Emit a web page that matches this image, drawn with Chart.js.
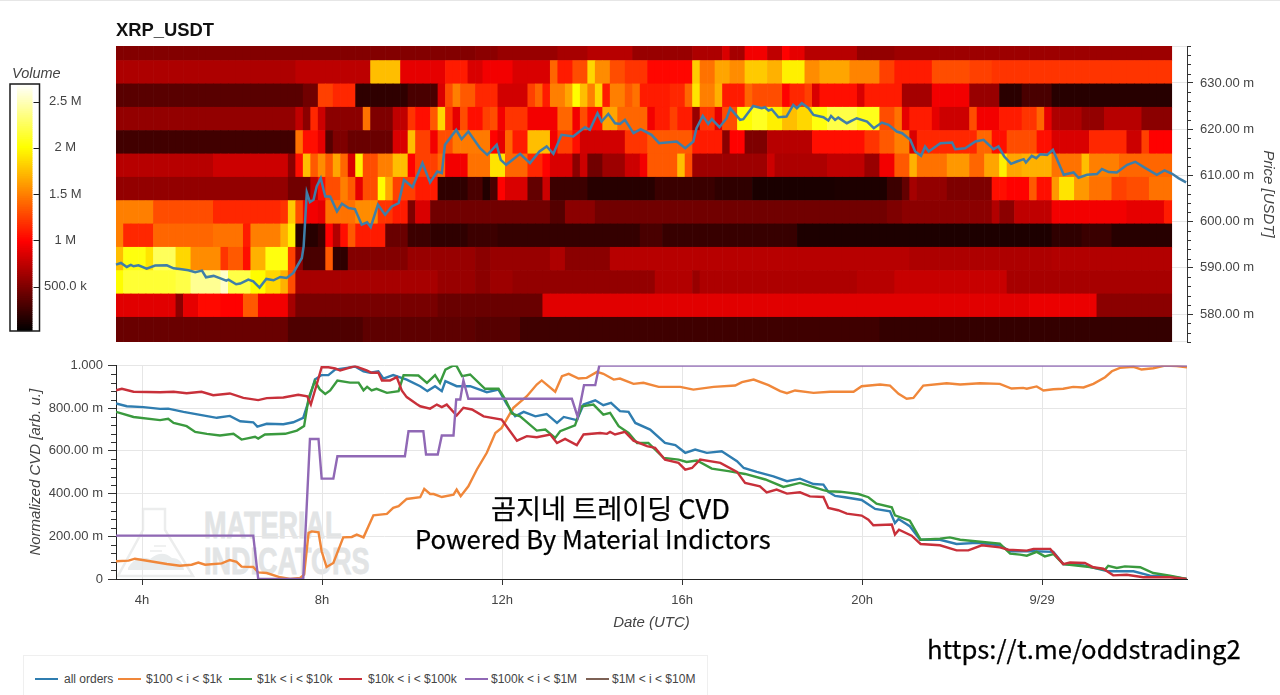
<!DOCTYPE html>
<html><head><meta charset="utf-8">
<script src="https://cdn.jsdelivr.net/npm/chart.js@4"></script>
<style>
html,body{margin:0;padding:0;background:#fff;width:1280px;height:695px;overflow:hidden;font-family:"Liberation Sans",Arial,sans-serif}
canvas{position:absolute;display:block}
.t{position:absolute;white-space:nowrap}
#topline{position:absolute;left:0;top:0;width:1280px;height:1px;background:#e6e6e6}
#title{left:116px;top:19px;font:bold 18.4px "Liberation Sans";color:#111}
#vol{left:12px;top:65px;font:italic 14.5px "Liberation Sans";color:#444}
.wm{font:bold 37px "Liberation Sans";color:#e2e4e5;transform-origin:0 0;transform:scaleX(.73);-webkit-text-stroke:.8px #e2e4e5}
.ko{font-family:"Noto Sans CJK KR";color:#000;-webkit-text-stroke:.25px #000}
#legend{position:absolute;left:23px;top:655px;width:685px;height:45px;border:1px solid #efefef;box-sizing:border-box}
#legend i{position:absolute;top:22px;width:23px;height:2px}
#legend span{position:absolute;top:16px;font:12px "Liberation Sans";color:#444}
</style></head><body>
<div id="topline"></div>
<svg style="position:absolute;left:116px;top:506px" width="80" height="74" viewBox="0 0 80 74">
<path d="M27 3H49V24L77 70H2L27 24Z" fill="none" stroke="#eceded" stroke-width="2.5"/>
<path d="M12 62Q20 48 34 53Q46 43 56 52Q66 52 68 64H12Z" fill="#e9eced"/>
<path d="M38 40H50M34 45H46" stroke="#eceded" stroke-width="1.5"/>
</svg>
<div class="t wm" style="left:204px;top:505px">MATERIAL</div>
<div class="t wm" style="left:204px;top:541px">INDICATORS</div>
<canvas id="heat" style="left:0;top:0" width="1280" height="350"></canvas>
<canvas id="bar" style="left:0;top:60px" width="110" height="280"></canvas>
<canvas id="cvd" style="left:0;top:350px" width="1280" height="290"></canvas>
<div class="t" id="title">XRP_USDT</div>
<div class="t" id="vol">Volume</div>
<div class="t ko" style="left:491px;top:489px;font-size:27.2px;line-height:36px">곰지네 트레이딩 CVD</div>
<div class="t ko" style="left:415px;top:520px;font-size:25.7px;line-height:36px">Powered By Material Indictors</div>
<div class="t ko" style="left:927px;top:629px;font-size:25.7px;line-height:38px">https://t.me/oddstrading2</div>
<div id="legend"></div>
<script>
/* ---------- heatmap rows (top to bottom): [end column, volume in M] ---------- */
const row00=[[48,.52],[51,.55],[59,.6],[63,.66],[69,.72],[77,.6],[81,.68],[82,.85],[84,.65],[87,.95],[89,.75],[90,1.0],[92,.9],[99,.72],[104,.58],[141,.62]];
const row01=[[24,.68],[34,.74],[38,1.75],[44,.9],[47,1.1],[49,.85],[53,.95],[58,.85],[59,1.4],[61,1.1],[63,1.3],[64,1.85],[66,1.55],[68,1.3],[71,1.2],[77,1.02],[78,1.8],[80,1.45],[82,1.65],[84,1.55],[87,1.8],[89,1.7],[92,1.95],[94,1.55],[98,1.65],[102,1.52],[104,1.25],[109,1.1],[114,1.3],[117,1.25],[127,1.2],[141,1.2]];
const row02=[[25,.36],[27,.45],[29,1.25],[32,1.15],[39,.2],[43,.3],[44,.85],[45,1.3],[46,1.5],[48,1.35],[51,1.15],[55,.82],[56,1.25],[57,1.4],[58,1.1],[60,1.5],[61,1.65],[62,2.0],[63,1.75],[64,1.5],[65,1.85],[66,1.1],[68,1.5],[69,1.35],[70,1.45],[74,1.1],[76,1.15],[77,1.4],[78,1.9],[80,1.5],[81,1.7],[84,1.1],[85,1.4],[89,1.3],[90,1.0],[92,1.15],[93,1.25],[94,.85],[99,1.05],[100,.85],[105,1.1],[109,.65],[114,.95],[118,.6],[121,.18],[125,.3],[141,.17]];
const row03=[[24,.58],[25,.75],[26,.55],[27,1.15],[28,.8],[33,.55],[34,1.45],[37,.5],[39,.75],[40,1.2],[42,1.05],[43,1.35],[44,1.85],[45,1.2],[46,.9],[47,1.3],[49,1.05],[50,1.25],[51,1.3],[52,.95],[55,1.2],[59,.95],[61,1.4],[62,.95],[63,1.3],[65,1.05],[67,1.65],[71,1.4],[72,.95],[74,1.1],[75,1.25],[77,1.1],[78,.6],[80,1.2],[81,.9],[83,1.3],[85,2.0],[87,2.1],[89,1.95],[91,1.75],[93,1.85],[95,2.05],[99,2.2],[102,2.08],[104,1.3],[105,1.45],[106,.9],[109,1.1],[110,.9],[114,.8],[115,1.3],[118,.95],[121,1.1],[123,1.2],[124,1.4],[125,.9],[129,.68],[132,.58],[137,.72],[141,.55]];
const row04=[[24,.27],[25,1.45],[27,1.05],[28,.9],[29,.35],[31,.5],[37,.42],[39,.85],[40,1.75],[42,1.25],[43,.95],[44,1.3],[45,1.3],[50,1.48],[51,1.0],[52,.9],[53,1.4],[55,1.1],[58,1.75],[59,.95],[61,1.25],[62,1.05],[68,.82],[71,1.2],[77,1.35],[81,1.1],[82,.55],[84,1.0],[87,.5],[93,.72],[100,1.05],[102,1.2],[104,1.35],[106,1.5],[107,.85],[115,1.15],[117,1.4],[119,1.05],[123,1.3],[125,1.05],[130,.85],[135,1.15],[137,.8],[138,1.25],[141,1.0]];
const row05=[[13,.72],[23,.8],[24,.55],[25,1.05],[26,1.75],[27,1.35],[28,1.55],[29,1.35],[30,1.65],[31,1.4],[32,.85],[33,1.95],[35,1.3],[37,1.5],[39,1.75],[40,1.0],[43,1.25],[44,1.4],[47,.95],[50,1.45],[52,1.9],[55,1.4],[57,1.15],[58,1.0],[61,.85],[62,.55],[63,.8],[65,.45],[68,.62],[70,.8],[71,.95],[75,1.35],[76,1.75],[77,1.3],[87,.62],[88,.8],[95,.68],[100,.75],[102,.6],[104,.95],[106,1.35],[107,1.7],[111,1.45],[114,1.6],[116,1.4],[118,1.65],[119,1.95],[121,1.65],[125,1.7],[129,1.45],[130,1.75],[134,1.5],[141,1.4]];
const row06=[[23,.58],[26,.45],[27,.75],[28,1.05],[30,1.3],[31,1.5],[32,1.35],[33,.9],[35,1.3],[36,2.0],[37,1.65],[40,1.25],[43,1.1],[47,.2],[49,.3],[50,.15],[51,.3],[52,1.0],[55,.85],[57,.4],[58,.8],[63,.25],[72,.17],[80,.24],[85,.2],[96,.12],[103,.13],[105,.25],[106,.4],[107,.65],[111,.58],[117,.5],[119,1.05],[122,1.0],[123,1.35],[125,1.05],[126,1.6],[128,1.9],[130,1.6],[133,1.45],[135,1.25],[138,1.3],[141,1.45]];
const row07=[[5,1.5],[13,1.3],[22,1.15],[23,1.2],[24,1.8],[25,1.3],[27,.95],[28,.9],[32,1.45],[35,1.55],[37,1.2],[39,1.1],[40,.5],[42,.85],[58,.45],[60,.34],[64,.55],[103,.45],[105,.5],[117,.55],[118,.7],[120,.55],[125,.75],[135,.95],[140,.9],[141,1.1]];
const row08=[[1,1.5],[5,1.15],[13,1.4],[17,1.45],[18,1.1],[22,1.5],[23,1.7],[24,1.95],[27,.17],[28,.25],[29,1.0],[30,.7],[31,1.05],[32,1.35],[36,1.1],[39,.42],[42,.25],[47,.2],[51,.25],[70,.22],[73,.3],[91,.23],[125,.13],[129,.2],[133,.24],[141,.17]];
const row09=[[1,1.75],[4,2.05],[5,1.9],[8,2.25],[10,1.85],[14,1.55],[15,1.2],[17,1.35],[18,1.05],[20,1.7],[23,2.05],[24,1.25],[25,.55],[28,.3],[29,1.35],[31,.2],[39,.52],[48,.6],[50,.55],[58,.6],[60,.68],[66,.55],[106,.72],[125,.68],[141,.7]];
const row10=[[1,2.0],[8,2.15],[10,2.2],[14,2.4],[15,2.55],[18,2.2],[20,2.0],[22,1.85],[23,1.7],[24,1.3],[43,.66],[48,.6],[50,.55],[53,.62],[72,.58],[77,.7],[78,.6],[99,.68],[104,.72],[119,.78],[141,.66]];
const row11=[[8,.88],[9,.55],[11,.9],[14,1.03],[17,1.0],[19,1.35],[23,.95],[24,.65],[43,.48],[57,.42],[122,.88],[131,.92],[141,.55]];
const row12=[[23,.42],[33,.32],[48,.38],[54,.35],[102,.26],[141,.22]];
const heatRows=[row12,row11,row10,row09,row08,row07,row06,row05,row04,row03,row02,row01,row00];
const rowEdges=[573.95,579.3,584.35,589.4,594.45,599.5,604.55,609.6,614.65,619.7,624.75,629.8,634.85,638];
const heatStartHour=3.42, columnsPerHour=6.01;

/* ---------- price line: [hour, price in milli-USDT] ---------- */
const priceLine=[[3.42,590.69],[3.53,591.05],[3.66,590.19],[3.75,590.62],[3.81,590.33],[3.92,590.55],[4.1,589.83],[4.29,590.48],[4.55,590.55],[4.7,589.9],[4.84,589.76],[5.03,589.47],[5.18,589.04],[5.33,589.4],[5.42,587.96],[5.59,588.25],[5.77,587.6],[5.87,587.24],[5.92,587.45],[6.09,586.45],[6.18,586.59],[6.36,587.45],[6.47,587.09],[6.61,585.73],[6.76,587.6],[6.92,587.31],[7.07,588.03],[7.21,587.81],[7.36,588.89],[7.55,592.13],[7.59,594.65],[7.66,606.32],[7.73,604.23],[7.81,604.73],[7.88,607.61],[7.97,609.41],[8.07,605.45],[8.18,605.45],[8.33,602.2],[8.44,603.87],[8.59,602.93],[8.73,602.72],[8.88,599.33],[9,599.84],[9.08,598.83],[9.24,603.65],[9.4,601.49],[9.55,603.29],[9.7,604.01],[9.82,609.05],[10.01,607.47],[10.23,612.65],[10.4,608.48],[10.56,610.85],[10.66,610.49],[10.73,616.61],[10.98,619.85],[11.1,617.83],[11.25,619.49],[11.51,615.89],[11.67,614.45],[11.88,616.61],[11.97,613.37],[12.09,612.29],[12.4,614.67],[12.62,612.65],[12.83,615.17],[12.99,616.25],[13.14,614.67],[13.32,618.77],[13.58,618.41],[13.84,620.43],[13.95,619.85],[14.12,623.45],[14.21,621.65],[14.36,623.31],[14.51,621.29],[14.62,621.15],[14.73,622.01],[14.92,619.13],[15.08,620],[15.32,618.77],[15.49,616.97],[15.88,617.33],[16.07,615.89],[16.25,617.33],[16.32,620.21],[16.46,622.87],[16.58,621.15],[16.66,622.16],[16.83,620.43],[16.99,622.37],[17.07,624.53],[17.29,622.01],[17.36,622.16],[17.58,625.03],[17.77,624.53],[17.84,624.75],[17.92,624.03],[17.99,624.31],[18.14,622.59],[18.32,622.73],[18.47,625.25],[18.55,624.53],[18.66,625.61],[18.81,624.53],[18.92,623.09],[19.14,622.59],[19.25,621.87],[19.31,622.87],[19.4,622.01],[19.47,622.51],[19.66,621.29],[19.88,622.37],[20.11,621.65],[20.26,620.21],[20.44,621.44],[20.59,620.93],[20.77,619.49],[20.89,619.13],[21.07,617.69],[21.18,615.17],[21.31,614.24],[21.4,616.25],[21.48,615.17],[21.74,616.97],[22,617.11],[22.07,615.67],[22.29,615.89],[22.52,617.33],[22.7,617.69],[22.92,615.67],[23.03,616.25],[23.16,614.09],[23.31,612.51],[23.44,613.01],[23.59,613.52],[23.64,612.8],[23.77,614.24],[23.87,613.73],[23.96,614.59],[24.11,614.45],[24.24,615.53],[24.48,610.13],[24.7,610.64],[24.81,609.48],[25,610.13],[25.22,610.28],[25.33,611.36],[25.48,610.71],[25.66,610.64],[25.89,612.29],[26.07,612.94],[26.26,611.79],[26.55,610.13],[26.72,611.07],[26.89,610.35],[27.03,609.41],[27.2,608.48]];

/* ---------- normalized CVD series: [hour, milli-units] ---------- */
const allOrders=[[3.42,822],[3.66,809],[4.03,805],[4.4,797],[4.58,798],[4.92,783],[5.29,769],[5.66,755],[5.95,764],[6.18,739],[6.47,734],[6.56,714],[6.77,727],[7.14,725],[7.36,734],[7.58,755],[7.7,833],[7.84,934],[7.99,955],[8.14,955],[8.29,981],[8.55,989],[8.73,995],[8.92,973],[9.07,966],[9.25,973],[9.36,939],[9.58,955],[9.88,934],[10.18,903],[10.34,880],[10.51,903],[10.66,880],[10.74,927],[10.99,903],[11.29,903],[11.66,875],[11.92,887],[12.11,817],[12.29,762],[12.48,783],[12.74,762],[12.99,773],[13.22,731],[13.37,759],[13.66,744],[13.81,817],[14.07,837],[14.25,814],[14.42,825],[14.62,786],[14.81,783],[14.96,731],[15.29,700],[15.62,637],[15.85,627],[16.07,591],[16.29,606],[16.55,591],[16.88,598],[17.22,552],[17.37,520],[17.66,502],[18.03,481],[18.33,458],[18.62,470],[18.92,445],[19.14,442],[19.25,408],[19.4,389],[19.62,383],[19.99,370],[20.29,328],[20.62,317],[20.73,262],[20.81,281],[21.06,247],[21.29,184],[21.73,184],[22.1,164],[22.55,169],[23.06,158],[23.29,130],[23.81,130],[24.25,127],[24.47,70],[24.92,64],[25.47,36],[26.03,36],[26.4,16],[26.84,12],[27.21,0]];
const tier100to1k=[[3.42,83],[3.7,86],[3.84,95],[4.18,83],[4.55,70],[4.84,62],[5.1,67],[5.25,77],[5.4,67],[5.77,73],[5.95,89],[6.1,80],[6.21,58],[6.47,56],[6.58,31],[6.77,28],[7.07,8],[7.29,0],[7.51,5],[7.6,20],[7.7,216],[7.77,223],[7.92,219],[7.99,130],[8.1,56],[8.25,75],[8.47,195],[8.66,197],[8.77,208],[8.92,195],[9.14,298],[9.44,305],[9.58,333],[9.7,341],[9.88,375],[10.18,383],[10.27,422],[10.4,398],[10.48,398],[10.66,384],[10.92,395],[10.99,419],[11.08,388],[11.25,434],[11.44,513],[11.66,591],[11.85,684],[11.99,708],[12.25,802],[12.55,856],[12.77,911],[12.88,930],[13.18,877],[13.33,950],[13.48,961],[13.7,939],[13.88,942],[14.11,970],[14.25,961],[14.48,934],[14.62,939],[14.92,914],[15.14,919],[15.48,900],[15.96,900],[16.25,887],[16.7,900],[17.18,906],[17.33,922],[17.59,934],[17.92,908],[18.18,880],[18.33,870],[18.51,883],[18.92,872],[19.29,877],[19.81,877],[19.99,903],[20.4,911],[20.62,906],[20.81,867],[20.99,844],[21.14,848],[21.36,906],[21.88,917],[22.18,911],[22.62,917],[23.06,914],[23.32,892],[23.58,895],[23.66,891],[23.88,902],[24.03,883],[24.25,889],[24.47,891],[24.69,900],[24.92,897],[25.14,914],[25.4,945],[25.55,973],[25.73,989],[26.03,994],[26.21,981],[26.47,987],[26.73,1000],[26.99,997],[27.22,992]];
const tier1kto10k=[[3.42,783],[3.81,759],[4.4,744],[4.58,750],[4.7,731],[4.99,716],[5.18,689],[5.44,680],[5.73,672],[6.03,680],[6.21,653],[6.51,666],[6.58,658],[6.73,677],[7.18,680],[7.44,695],[7.6,716],[7.7,848],[7.84,927],[7.95,888],[8.07,867],[8.18,883],[8.34,930],[8.62,920],[8.81,920],[8.92,884],[9,900],[9.1,883],[9.21,891],[9.44,872],[9.7,880],[9.81,955],[10.14,953],[10.33,919],[10.51,955],[10.62,919],[10.74,981],[10.92,1000],[10.99,997],[11.11,950],[11.29,958],[11.62,891],[11.92,891],[12.07,841],[12.22,775],[12.4,762],[12.77,695],[12.96,700],[13.18,661],[13.29,692],[13.62,720],[13.77,809],[14.03,817],[14.25,770],[14.4,778],[14.59,716],[14.81,684],[15,637],[15.25,637],[15.59,567],[15.92,559],[16.1,548],[16.33,555],[16.66,517],[17.03,505],[17.4,492],[17.85,466],[18.25,431],[18.62,450],[19.14,416],[19.25,411],[19.51,409],[19.92,398],[20.14,383],[20.32,353],[20.66,336],[20.73,298],[21.06,273],[21.3,184],[21.73,189],[21.95,195],[22.18,184],[23.06,166],[23.29,119],[23.51,114],[23.66,109],[23.88,127],[24.06,106],[24.25,117],[24.47,70],[25.06,56],[25.4,44],[25.47,62],[25.66,52],[25.84,59],[26.18,55],[26.47,28],[26.84,16],[27.21,0]];
const tier10kto100k=[[3.42,884],[3.55,891],[3.81,877],[4.4,875],[4.7,877],[4.99,870],[5.32,877],[5.58,861],[5.95,869],[6.25,848],[6.58,838],[6.77,847],[7.14,850],[7.47,863],[7.67,856],[7.75,817],[7.88,911],[7.99,992],[8.14,992],[8.29,986],[8.4,977],[8.73,997],[8.99,977],[9.1,966],[9.25,966],[9.33,930],[9.51,930],[9.66,945],[9.77,883],[9.88,852],[10.1,820],[10.18,809],[10.4,798],[10.55,817],[10.66,805],[10.77,817],[10.99,766],[11.14,802],[11.33,794],[11.59,762],[11.99,747],[12.33,648],[12.55,669],[12.77,664],[13.07,677],[13.22,637],[13.4,656],[13.66,627],[13.81,677],[14.18,684],[14.33,680],[14.4,689],[14.51,677],[14.73,689],[14.92,648],[15.22,622],[15.4,614],[15.62,559],[15.92,544],[16.07,512],[16.22,520],[16.4,559],[16.85,544],[17.22,502],[17.4,450],[17.73,434],[17.88,406],[18.1,419],[18.33,400],[18.62,406],[18.84,387],[19.14,384],[19.25,333],[19.47,322],[19.66,306],[19.99,297],[20.14,278],[20.25,252],[20.66,255],[20.73,208],[20.82,231],[21.1,203],[21.3,164],[21.73,158],[22.1,134],[22.36,134],[22.66,158],[23.06,148],[23.25,137],[23.66,133],[23.81,141],[24.18,141],[24.47,70],[24.62,77],[24.95,75],[25.14,55],[25.36,48],[25.58,17],[25.88,20],[26.25,8],[26.84,8],[27.21,0]];
const tier100kto1M=[[3.42,203],[6.47,203],[6.58,0],[7.58,0],[7.73,656],[7.92,656],[7.99,470],[8.25,470],[8.34,575],[9.84,575],[9.92,692],[10.25,692],[10.31,583],[10.57,583],[10.66,672],[10.92,672],[10.98,841],[11.07,841],[11.14,930],[11.25,844],[13.55,844],[13.68,759],[13.82,908],[14.07,908],[14.16,1000],[27.22,1000]];
const tier1Mto10M=[];

const seriesNames=["all orders","$100 < i < $1k","$1k < i < $10k","$10k < i < $100k","$100k < i < $1M","$1M < i < $10M"];
const seriesData=[allOrders,tier100to1k,tier1kto10k,tier10kto100k,tier100kto1M,tier1Mto10M];
const seriesColors=["#2f7db0","#f0873a","#3a9a3e","#c8303a","#9068b5","#7d6155"];
const hourTicks=[4,8,12,16,20,24];
const hourLabels=["4h","8h","12h","16h","20h","9/29"];
const priceTicks=[580,590,600,610,620,630];
const cvdTicks=[0,200,400,600,800,1000];
const cvdLabels=["0","200.00 m","400.00 m","600.00 m","800.00 m","1.000"];
const volumeTicks=[.5,1,1.5,2,2.5];
const volumeLabels=["500.0 k","1 M","1.5 M","2 M","2.5 M"];
const volMin=.02, volMax=2.69, hourMin=3.42, hourMax=27.22;

Chart.defaults.animation=false;
Chart.defaults.responsive=false;
Chart.defaults.devicePixelRatio=1;
Chart.defaults.font.family='"Liberation Sans",Arial,sans-serif';
Chart.defaults.color='#444';

function hot(v){
  const t=Math.max(0,Math.min(1,(v-volMin)/(volMax-volMin)));
  const r=Math.min(1,t/.365),g=Math.max(0,Math.min(1,(t-.365)/.38)),b=Math.max(0,(t-.746)/.254);
  return `rgb(${Math.round(r*255)},${Math.round(g*255)},${Math.round(Math.min(1,b)*255)})`;
}
function rowToBars(row,r){
  const data=[],colors=[];let c=0;
  row.forEach(([end,v])=>{for(;c<end;c++){
    data.push({x:heatStartHour+(c+.5)/columnsPerHour,y:[rowEdges[r],rowEdges[r+1]]});
    colors.push(hot(v));
  }});
  return {type:'bar',data,backgroundColor:colors,grouped:false,barPercentage:1,categoryPercentage:1,borderWidth:0,order:2};
}
const pairs=a=>a.map(([x,y])=>({x,y}));
function fixTicks(values){return s=>{s.ticks=values.map(value=>({value}));};}
function noEdgePadding(s){s.paddingTop=0;s.paddingBottom=0;s.paddingLeft=0;s.paddingRight=0;}

const minorTicks={id:'minorTicks',afterDraw(chart,_,o){
  if(!o.axis)return;
  const s=chart.scales[o.axis],c=chart.ctx;c.save();c.strokeStyle='#333';c.lineWidth=1;
  for(let v=Math.ceil(s.min/o.step)*o.step;v<=s.max;v+=o.step){
    if(v%o.skip===0)continue;
    const y=Math.round(s.getPixelForValue(v))+.5;c.beginPath();
    if(o.side==='right'){c.moveTo(s.left,y);c.lineTo(s.left+4,y);}else{c.moveTo(s.right-5,y);c.lineTo(s.right,y);}
    c.stroke();
  }
  c.restore();
}};
const frame={id:'frame',beforeDatasetsDraw(chart,_,o){
  const a=chart.chartArea,c=chart.ctx;c.save();c.strokeStyle='#e6e6e6';c.lineWidth=1;c.beginPath();
  if(o.right){c.moveTo(a.right-.5,a.top);c.lineTo(a.right-.5,a.bottom);}
  if(o.top){c.moveTo(a.left,a.top+.5);c.lineTo(a.right,a.top+.5);}
  if(o.bottom){c.moveTo(a.left,a.bottom-.5);c.lineTo(a.right,a.bottom-.5);}
  c.stroke();c.restore();
}};

/* heatmap + price */
new Chart(document.getElementById('heat'),{
  type:'bar',plugins:[minorTicks,frame],
  data:{datasets:[
    {type:'line',label:'Price',data:pairs(priceLine),borderColor:'#3f7ea8',borderWidth:2.5,pointRadius:0,tension:0,order:1,clip:false},
    ...heatRows.map(rowToBars)
  ]},
  options:{
    layout:{padding:{left:116,top:46,bottom:8,right:0}},
    plugins:{legend:{display:false},tooltip:{enabled:false},
      minorTicks:{axis:'y',step:2,skip:10,side:'right'},frame:{top:true,bottom:true}},
    scales:{
      x:{type:'linear',min:hourMin,max:hourMax,display:false,offset:false},
      y:{type:'linear',position:'right',min:573.95,max:638,afterBuildTicks:fixTicks(priceTicks),
        afterFit(s){s.width=93;noEdgePadding(s);},
        grid:{color:'#e6e6e6',tickColor:'#333',tickLength:6},border:{display:true,color:'#333'},
        ticks:{padding:7,font:{size:13},color:'#444',callback:v=>v.toFixed(2)+' m'},
        title:{display:true,text:'Price [USDT]',font:{size:15,style:'italic'},color:'#444',padding:{top:3,bottom:0}}}
    }
  }
});

/* colour bar */
const barLevels=[];for(let v=volMin;v<volMax;v+=.02)barLevels.push(v);
new Chart(document.getElementById('bar'),{
  type:'bar',
  plugins:[{id:'cbFrame',afterDatasetsDraw(chart){
    const a=chart.chartArea,c=chart.ctx,s=chart.scales.y;c.save();c.strokeStyle='#1a1a1a';c.lineWidth=1.5;
    c.strokeRect(a.left,a.top,a.right-a.left,a.bottom-a.top);c.lineWidth=1;
    volumeTicks.forEach(v=>{const y=Math.round(s.getPixelForValue(v))+.5;c.beginPath();c.moveTo(a.right-6,y);c.lineTo(a.right,y);c.stroke();});
    c.restore();
  }}],
  data:{datasets:[{data:barLevels.map(v=>({x:.5,y:[v,v+.021]})),backgroundColor:barLevels.map(v=>hot(v+.01)),barPercentage:1,categoryPercentage:1,borderWidth:0}]},
  options:{
    layout:{padding:{left:10,top:24,bottom:9,right:0}},
    plugins:{legend:{display:false},tooltip:{enabled:false}},
    scales:{
      x:{type:'linear',min:0,max:1,display:false},
      y:{type:'linear',position:'right',min:volMin,max:volMax,afterBuildTicks:fixTicks(volumeTicks),
        afterFit(s){s.width=70.5;noEdgePadding(s);},grid:{display:false,drawTicks:false},border:{display:false},
        ticks:{padding:4.5,crossAlign:'center',font:{size:13},color:'#444',callback:v=>volumeLabels[volumeTicks.indexOf(v)]}}
    }
  }
});

/* CVD lines */
const cvdChart=new Chart(document.getElementById('cvd'),{
  type:'line',plugins:[minorTicks,frame],
  data:{datasets:seriesNames.map((n,i)=>({label:n,data:pairs(seriesData[i]),borderColor:seriesColors[i],borderWidth:2.4,pointRadius:0,tension:0,order:6-i,clip:0}))},
  options:{
    layout:{padding:{left:0,top:15.5,bottom:0,right:93}},
    plugins:{legend:{display:false},tooltip:{enabled:false},
      minorTicks:{axis:'y',step:40,skip:200,side:'left'},frame:{right:true}},
    scales:{
      x:{type:'linear',min:hourMin,max:hourMax,afterBuildTicks:fixTicks(hourTicks),
        afterFit(s){s.height=61;noEdgePadding(s);},
        grid:{color:'#e6e6e6',tickColor:'#333',tickLength:6},border:{display:true,color:'#222'},
        ticks:{padding:8,font:{size:13},color:'#444',maxRotation:0,callback:v=>hourLabels[hourTicks.indexOf(v)]},
        title:{display:true,text:'Date (UTC)',font:{size:15,style:'italic'},color:'#444',padding:{top:0,bottom:8}}},
      y:{type:'linear',min:0,max:1000,afterBuildTicks:fixTicks(cvdTicks),
        afterFit(s){s.width=116;noEdgePadding(s);},
        grid:{color:'#e6e6e6',tickColor:'#333',tickLength:8},border:{display:true,color:'#222'},
        ticks:{padding:5,font:{size:13},color:'#444',callback:v=>cvdLabels[cvdTicks.indexOf(v)]},
        title:{display:true,text:'Normalized CVD [arb. u.]',font:{size:15,style:'italic'},color:'#444',padding:{top:27,bottom:0}}}
    }
  }
});

/* legend built from the chart's datasets */
const swatchX=[11,94,205,315,441,562],textX=[40,122,233,344,467,588];
const lg=document.getElementById('legend');
cvdChart.data.datasets.forEach((d,i)=>{
  const sw=document.createElement('i');sw.style.left=swatchX[i]+'px';sw.style.background=d.borderColor;lg.appendChild(sw);
  const tx=document.createElement('span');tx.style.left=textX[i]+'px';tx.textContent=d.label;lg.appendChild(tx);
});
</script>
</body></html>
